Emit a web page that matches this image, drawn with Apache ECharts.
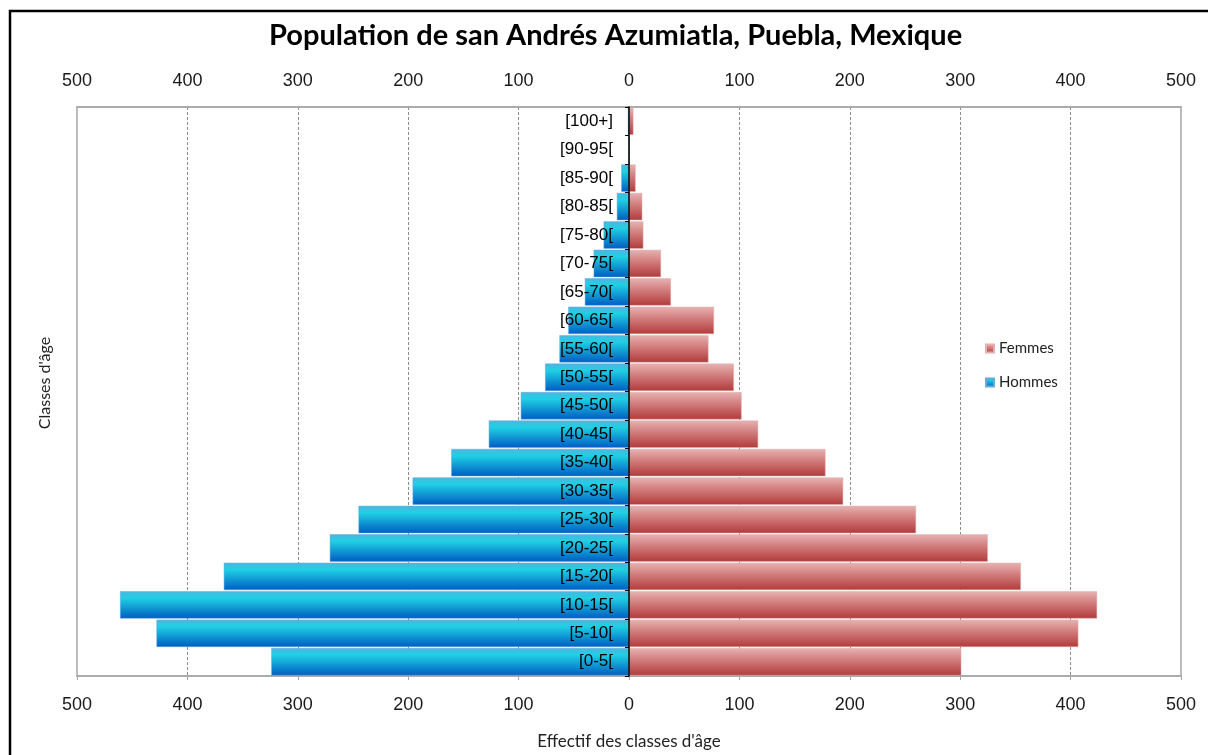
<!DOCTYPE html>
<html>
<head>
<meta charset="utf-8">
<script src="https://cdn.jsdelivr.net/npm/echarts@6/dist/echarts.min.js"></script>
<style>
html,body{margin:0;padding:0;background:#fff;}
#chart{width:1208px;height:755px;}
</style>
</head>
<body>
<div id="chart"></div>
<script>
const categories = ['[0-5[','[5-10[','[10-15[','[15-20[','[20-25[','[25-30[','[30-35[','[35-40[','[40-45[','[45-50[','[50-55[','[55-60[','[60-65[','[65-70[','[70-75[','[75-80[','[80-85[','[85-90[','[90-95[','[100+]'];
const hommes = [324, 428, 461, 367, 271, 245, 196, 161, 127, 98, 76, 63, 55, 40, 32, 23, 11, 7, 0, 1];
const femmes = [301, 407, 424, 355, 325, 260, 194, 178, 117, 102, 95, 72, 77, 38, 29, 13, 12, 6, 0, 4];
const tickValues = [-500, -400, -300, -200, -100, 0, 100, 200, 300, 400, 500];

const NARROW = '"Liberation Sans Narrow", "Arial Narrow", "Liberation Sans", sans-serif';
const HUM = 'Lato, "Open Sans", sans-serif';

const GRID_LEFT = 77, GRID_RIGHT = 27;
const plotWidth = 1208 - GRID_LEFT - GRID_RIGHT;
const xMin = tickValues[0], xMax = tickValues[tickValues.length - 1];
// distance from grid left edge to the zero line, used to move the category axis onto x = 0
const zeroOffset = (0 - xMin) / (xMax - xMin) * plotWidth;

const chart = echarts.init(document.getElementById('chart'), null, {renderer: 'canvas'});

const blueGrad = new echarts.graphic.LinearGradient(0, 0, 0, 1, [
  {offset: 0, color: '#4cb6e0'},
  {offset: 0.25, color: '#1fd0e4'},
  {offset: 1, color: '#005cc2'}
]);
const redGrad = new echarts.graphic.LinearGradient(0, 0, 0, 1, [
  {offset: 0, color: '#e6b3b3'},
  {offset: 0.3, color: '#d98c8c'},
  {offset: 1, color: '#b23a3a'}
]);

const xAxisCommon = {
  type: 'value',
  min: xMin,
  max: xMax,
  interval: 100,
  axisLabel: {
    formatter: v => String(Math.abs(v)),
    color: '#1a1a1a',
    fontFamily: NARROW,
    fontSize: 18
  }
};

chart.setOption({
  animation: false,
  backgroundColor: '#ffffff',
  title: {
    text: 'Population de san Andrés Azumiatla, Puebla, Mexique',
    left: 264,
    top: 16,
    textStyle: {fontFamily: HUM, fontWeight: 'bold', fontSize: 29, color: '#000'}
  },
  legend: {
    orient: 'vertical',
    left: 980,
    top: 336,
    itemWidth: 8,
    itemHeight: 8,
    itemGap: 19,
    icon: 'rect',
    data: ['Femmes', 'Hommes'],
    textStyle: {fontFamily: HUM, fontSize: 15, color: '#222'}
  },
  grid: {
    left: GRID_LEFT, right: GRID_RIGHT, top: 107, bottom: 78,
    show: true,
    borderColor: '#a6a6a6',
    borderWidth: 1.5,
    containLabel: false
  },
  xAxis: [
    Object.assign({}, xAxisCommon, {
      position: 'bottom',
      name: "Effectif des classes d'âge",
      nameLocation: 'middle',
      nameGap: 57,
      nameTextStyle: {fontFamily: HUM, fontSize: 17, color: '#222'},
      axisLine: {show: true, lineStyle: {color: '#a6a6a6', width: 1.5}},
      axisTick: {show: true, length: 4, lineStyle: {color: '#a6a6a6'}},
      axisLabel: Object.assign({}, xAxisCommon.axisLabel, {margin: 20}),
      splitLine: {show: true, showMinLine: false, showMaxLine: false, lineStyle: {color: '#8c8c8c', type: [3, 2], width: 1}}
    }),
    Object.assign({}, xAxisCommon, {
      position: 'top',
      axisLine: {show: true, lineStyle: {color: '#a6a6a6', width: 1.5}},
      axisTick: {show: false},
      axisLabel: Object.assign({}, xAxisCommon.axisLabel, {margin: 17}),
      splitLine: {show: false}
    })
  ],
  yAxis: {
    type: 'category',
    data: categories,
    z: 10,
    position: 'left',
    offset: -zeroOffset,
    axisLine: {show: true, onZero: false, lineStyle: {color: '#000', width: 1.5}},
    axisTick: {show: true, length: 4, lineStyle: {color: '#000'}},
    axisLabel: {
      margin: 16,
      color: '#000',
      fontFamily: NARROW,
      fontSize: 17
    },
    splitLine: {show: false}
  },
  series: [
    {
      name: 'Femmes',
      type: 'bar',
      xAxisIndex: 0,
      data: femmes,
      barGap: '-100%',
      barCategoryGap: '4%',
      itemStyle: {color: redGrad, borderColor: '#e2b0b0', borderWidth: 0.5}
    },
    {
      name: 'Hommes',
      type: 'bar',
      xAxisIndex: 0,
      data: hommes.map(v => -v),
      barGap: '-100%',
      barCategoryGap: '4%',
      itemStyle: {color: blueGrad, borderColor: '#6aa8d8', borderWidth: 0.5}
    }
  ],
  graphic: [
    {
      type: 'rect',
      shape: {x: 10, y: 11, width: 1300, height: 800},
      style: {fill: 'none', stroke: '#000', lineWidth: 2.5},
      silent: true
    },
    {
      type: 'text',
      x: 45, y: 383,
      rotation: Math.PI / 2,
      style: {
        text: "Classes d'âge",
        fontFamily: HUM,
        fontSize: 16,
        fill: '#222',
        align: 'center',
        verticalAlign: 'middle'
      }
    }
  ]
});
</script>
</body>
</html>
